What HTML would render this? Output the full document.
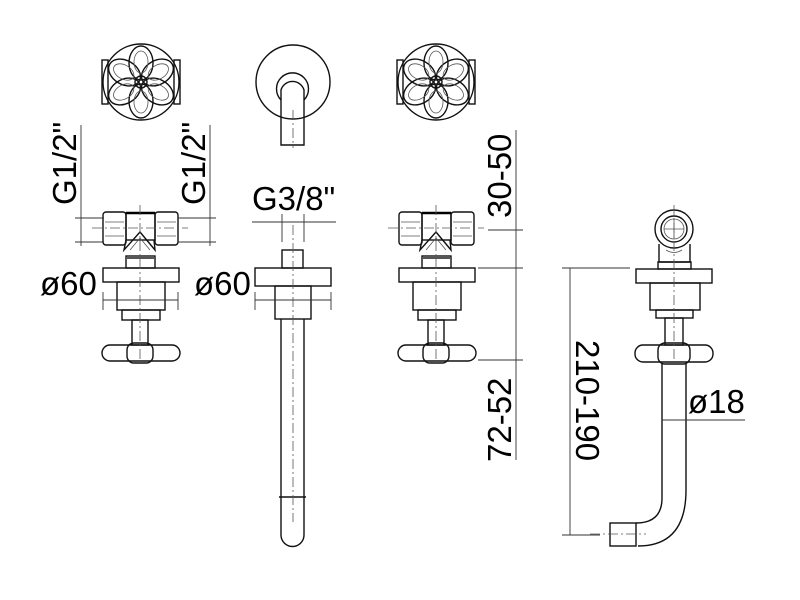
<!DOCTYPE html>
<html><head><meta charset="utf-8"><style>
html,body{margin:0;padding:0;background:#fff}
svg{display:block}
text{font-family:"Liberation Sans",sans-serif;font-size:33px;fill:#000}
.o{fill:none;stroke:#111;stroke-width:1.4}
.t{fill:none;stroke:#555;stroke-width:0.8}
.c{fill:none;stroke:#555;stroke-width:0.8;stroke-dasharray:10 3 2 3}
.d{fill:none;stroke:#333;stroke-width:0.9}
</style></head><body>
<svg width="800" height="600" viewBox="0 0 800 600" xmlns="http://www.w3.org/2000/svg">
<defs>
<g id="rose">
  <rect x="-39" y="-22" width="6" height="44" class="o"/>
  <rect x="33" y="-22" width="6" height="44" class="o"/>
  <circle r="38" fill="#fff" class="o"/>
  <circle r="6" class="o"/>
  <g class="o">
    <ellipse cx="0" cy="-19" rx="12" ry="17"/>
    <ellipse cx="0" cy="-19" rx="12" ry="17" transform="rotate(60)"/>
    <ellipse cx="0" cy="-19" rx="12" ry="17" transform="rotate(120)"/>
    <ellipse cx="0" cy="-19" rx="12" ry="17" transform="rotate(180)"/>
    <ellipse cx="0" cy="-19" rx="12" ry="17" transform="rotate(240)"/>
    <ellipse cx="0" cy="-19" rx="12" ry="17" transform="rotate(300)"/>
  </g>
  <g class="t">
    <ellipse cx="0" cy="-20" rx="7" ry="11"/>
    <ellipse cx="0" cy="-20" rx="7" ry="11" transform="rotate(60)"/>
    <ellipse cx="0" cy="-20" rx="7" ry="11" transform="rotate(120)"/>
    <ellipse cx="0" cy="-20" rx="7" ry="11" transform="rotate(180)"/>
    <ellipse cx="0" cy="-20" rx="7" ry="11" transform="rotate(240)"/>
    <ellipse cx="0" cy="-20" rx="7" ry="11" transform="rotate(300)"/>
  </g>
</g>
<g id="valve">
  <rect x="-37" y="212" width="23" height="33" rx="3" class="o"/>
  <rect x="15" y="212" width="23" height="33" rx="3" class="o"/>
  <path d="M-35 222h19M-35 236h19M17 222h19M17 236h19" class="t"/>
  <rect x="-14" y="213" width="29" height="27" class="o"/>
  <path d="M-14 213h29" stroke="#000" stroke-width="2.5"/>
  <path d="M-14 240 L-16 250 L0 232 L15 250 L14 240" class="o"/>
  <path d="M-10 250 L0 238 L10 250" class="t"/>
  <rect x="-14" y="256" width="29" height="12" class="o"/>
  <path d="M-14 258h29" stroke="#555" stroke-width="2"/>
  <rect x="-37" y="268" width="76" height="14" class="o"/>
  <rect x="-23" y="282" width="48" height="28" class="o"/>
  <rect x="-18" y="310" width="38" height="10" class="o"/>
  <rect x="-8" y="320" width="16" height="25" class="o"/>
  <rect x="-38" y="345" width="78" height="16" rx="8" class="o"/>
  <rect x="-13" y="343" width="26" height="20" rx="7" fill="#fff" class="o"/>
  <path d="M0 205V365" class="c"/>
  <path d="M-48 228H48" class="c"/>
</g>
</defs>

<use href="#rose" x="141" y="82"/>
<use href="#rose" x="436" y="82"/>
<circle cx="293" cy="82" r="37" class="o"/>
<path d="M281 145V90a12 12 0 0 1 23 0V145Z" class="o"/>
<path d="M281 100a16 16 0 1 1 23 0" class="o"/>
<path d="M293 110V148" class="c"/>

<use href="#valve" x="140" y="0"/>
<path d="M81 125V246M75 218H104M75 242H104" class="d"/>
<path d="M210 125V246M178 218H216M178 242H216" class="d"/>
<text transform="translate(76 205) rotate(-90)">G1/2"</text>
<text transform="translate(205 205) rotate(-90)">G1/2"</text>
<text x="40" y="295">ø60</text>
<path d="M103 292V310M178 292V310M103 300H178" class="d"/>

<text x="252" y="210">G3/8"</text>
<path d="M252 222H336M282 214V242M304 214V242" class="d"/>
<rect x="282" y="250" width="21" height="18" class="o"/>
<rect x="255" y="268" width="76" height="18" class="o"/>
<rect x="275" y="286" width="36" height="33" class="o"/>
<path d="M281 319V535a11.5 11.5 0 0 0 23 0V319" class="o"/>
<path d="M279 497H306" class="o"/>
<path d="M293 225V522" class="c"/>
<text x="194" y="295">ø60</text>
<path d="M255 292V310M331 292V310M255 300H331" class="d"/>

<use href="#valve" x="436" y="0"/>
<path d="M516 130V460M488 230H523M478 268H523M478 360H523" class="d"/>
<text transform="translate(511 218) rotate(-90)">30-50</text>
<text transform="translate(511 462) rotate(-90)">72-52</text>

<circle cx="674" cy="229" r="19" class="o"/>
<circle cx="674" cy="229" r="13" class="o"/>
<circle cx="674" cy="229" r="10" class="t"/>
<path d="M664 229h20M674 219v20" class="t"/>
<path d="M659 244V262H690V244" class="o"/>
<path d="M666 250q8 5 16 0" class="t"/>
<rect x="658" y="262" width="33" height="7" class="o"/>
<rect x="636" y="269" width="76" height="14" class="o"/>
<rect x="650" y="283" width="50" height="27" class="o"/>
<rect x="656" y="310" width="37" height="8" class="o"/>
<rect x="665" y="318" width="18" height="27" class="o"/>
<rect x="635" y="345" width="78" height="17" rx="8" class="o"/>
<rect x="658" y="343" width="32" height="21" rx="7" fill="#fff" class="o"/>
<path d="M662 364V498Q662 523 636 523M686 364V490Q686 546 638 546" class="o"/>
<rect x="610" y="523" width="26" height="23" class="o"/>
<path d="M674 205V365" class="c"/>
<path d="M590 534H646" class="c"/>
<path d="M570 268V535M562 268H630M562 535H600" class="d"/>
<text transform="translate(576 340) rotate(90)">210-190</text>
<path d="M662 420H745" class="d"/>
<text x="688" y="413">ø18</text>
</svg>
</body></html>
